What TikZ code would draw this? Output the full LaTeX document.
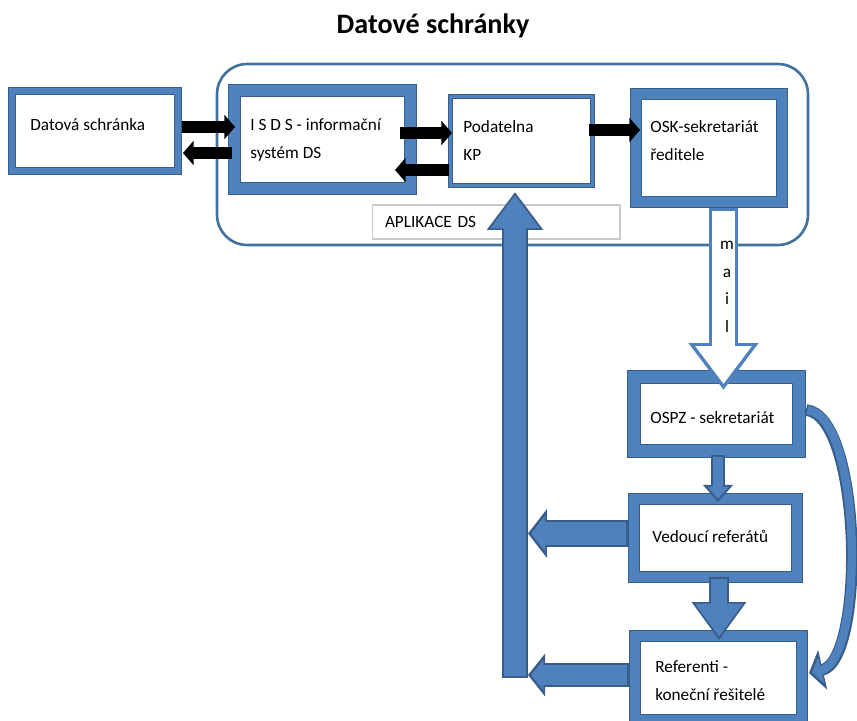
\documentclass[tikz,border=0pt]{standalone}
\usepackage{fontspec}
\setmainfont{Carlito}
\usetikzlibrary{arrows.meta, calc}

\definecolor{dsblue}{HTML}{4F81BD}
\definecolor{dsdark}{HTML}{385D8A}
\definecolor{dsframe}{HTML}{41719C}
\definecolor{dsgray}{HTML}{C8C8C8}

% block arrow: outline, fill, outline width, path, shaft, head width, head length (pt)
\newcommand{\blockarrow}[7]{%
  \pgfmathsetmacro{\baW}{#5-2*#3}%
  \pgfmathsetmacro{\baL}{#7-3*#3}%
  \pgfmathsetmacro{\baH}{#6*\baL/#7}%
  \pgfmathsetmacro{\baS}{2*#3}%
  \draw[draw=#1, line width=#5pt, -{Triangle[width=#6pt, length=#7pt]}] #4;
  \draw[draw=#2, line width=\baW pt, shorten <=#3pt, shorten >=\baS pt, -{Triangle[width=\baH pt, length=\baL pt]}] #4;
}

\begin{document}
\begin{tikzpicture}[x=0.02cm, y=-0.02cm,
  dsbox/.style={draw=dsdark, line width=0.5pt, double=dsblue, fill=white},
  txt/.style={anchor=base west, align=left, inner sep=0pt, font=\fontsize{9.8}{15.6}\selectfont},
  blk/.style={draw=black, line width=6.8pt, -{Triangle[width=13.5pt, length=6pt]}}]
			\useasboundingbox (0,0) rectangle (857,720);
			\node[anchor=base, font=\fontsize{16}{19}\selectfont\bfseries] (title) at (433,33) {Datové schránky};

			% aplikace DS
			\node[draw=dsframe, line width=1.5pt, rounded corners=0.6cm, minimum width=11.82cm, minimum height=3.62cm] (app) at (512.5,154.5) {};
			\node[draw=dsgray, line width=0.6pt, fill=white, minimum width=4.96cm, minimum height=0.68cm, text width=4.44cm, inner xsep=0.26cm, align=left, font=\fontsize{9.8}{15.6}\selectfont] (apl) at (496,222) {APLIKACE DS};

			% boxes
			\node[dsbox, double distance=3.55pt, outer sep=2.28pt, minimum width=3.32cm, minimum height=1.60cm] (datova) at (95,131) {};
			\node[dsbox, double distance=6.4pt, outer sep=3.7pt, minimum width=3.52cm, minimum height=1.96cm] (isds) at (322.5,139.5) {};
			\node[dsbox, double distance=1.85pt, outer sep=1.42pt, minimum width=2.84cm, minimum height=1.78cm] (podatelna) at (521.5,141) {};
			\node[dsbox, double distance=5.83pt, outer sep=3.41pt, minimum width=2.92cm, minimum height=2.16cm] (osk) at (709,148) {};
			\node[dsbox, double distance=6.97pt, outer sep=3.98pt, minimum width=3.30cm, minimum height=1.48cm] (ospz) at (716.5,414) {};
			\node[dsbox, double distance=5.83pt, outer sep=3.41pt, minimum width=3.26cm, minimum height=1.56cm] (vedouci) at (715.5,538) {};
			\node[dsbox, double distance=5.83pt, outer sep=3.41pt, minimum width=3.34cm, minimum height=1.68cm] (referenti) at (718.5,678) {};

			\node[txt] (datovaT) at (30,130) {Datová schránka};
			\node[txt] (isdsT) at (250,158) {I S D S - informační\\systém DS};
			\node[txt] (podatelnaT) at (463,160) {Podatelna\\KP};
			\node[txt] (oskT) at (650,160) {OSK-sekretariát\\ředitele};
			\node[txt] (ospzT) at (650,423) {OSPZ - sekretariát};
			\node[txt] (vedouciT) at (652,542) {Vedoucí referátů};
			\node[txt] (referentiT) at (655,700) {Referenti -\\koneční řešitelé};

			% black arrows
			\draw[blk] ($(datova.east)+(0,-4)$) -- ($(datova.east -| isds.west)+(7,-4)$);
			\draw[blk] ($(datova.east -| isds.west)+(4,22)$) -- ($(datova.east)+(1,22)$);
			\draw[blk] ($(isds.east)+(-17,-6.5)$) -- ($(isds.east -| podatelna.west)+(4,-6.5)$);
			\draw[blk] ($(isds.east -| podatelna.west)+(1,30.5)$) -- ($(isds.east)+(-22,30.5)$);
			\draw[blk] ($(podatelna.east)+(-6,-11)$) -- ($(podatelna.east -| osk.west)+(10,-11)$);

			% mail
			\blockarrow{dsblue}{white}{1.7}{($(osk.south)+(14.5,0)$) -- ($(osk.south |- ospz.north)+(14.5,20)$)}{16.5}{38}{26.7}
			\node[anchor=base, align=center, inner sep=0pt, font=\fontsize{9.8}{15.6}\selectfont] (mailT) at (727,332) {m\\a\\i\\l};

			% blue arrows
			\coordinate (barfoot) at (515,678);
			\blockarrow{dsdark}{dsblue}{0.9}{(barfoot) -- ($(barfoot |- podatelna.south)+(0,4)$)}{14.8}{30.7}{21.6}
			\blockarrow{dsdark}{dsblue}{0.9}{($(vedouci.west)+(0,-4.5)$) -- ($(vedouci.west -| barfoot)+(13,-4.5)$)}{15.4}{27.3}{10.8}
			\blockarrow{dsdark}{dsblue}{0.9}{($(referenti.west)+(0,-3)$) -- ($(referenti.west -| barfoot)+(13,-3)$)}{13.7}{23.9}{9.7}
			\blockarrow{dsdark}{dsblue}{0.9}{($(ospz.south)+(1.5,-3)$) -- ($(ospz.south |- vedouci.north)+(1.5,9)$)}{8}{16.5}{9.7}
			\blockarrow{dsdark}{dsblue}{0.9}{($(vedouci.south)+(3.5,-6)$) -- ($(vedouci.south |- referenti.north)+(3.5,10)$)}{11.4}{29.6}{21.6}
			\blockarrow{dsdark}{dsblue}{0.9}{($(ospz.east)+(0,-4)$) .. controls (862,415) and (866,660) .. ($(referenti.east)+(1,-5)$)}{6.6}{22.8}{8}
		\end{tikzpicture}
\end{document}
